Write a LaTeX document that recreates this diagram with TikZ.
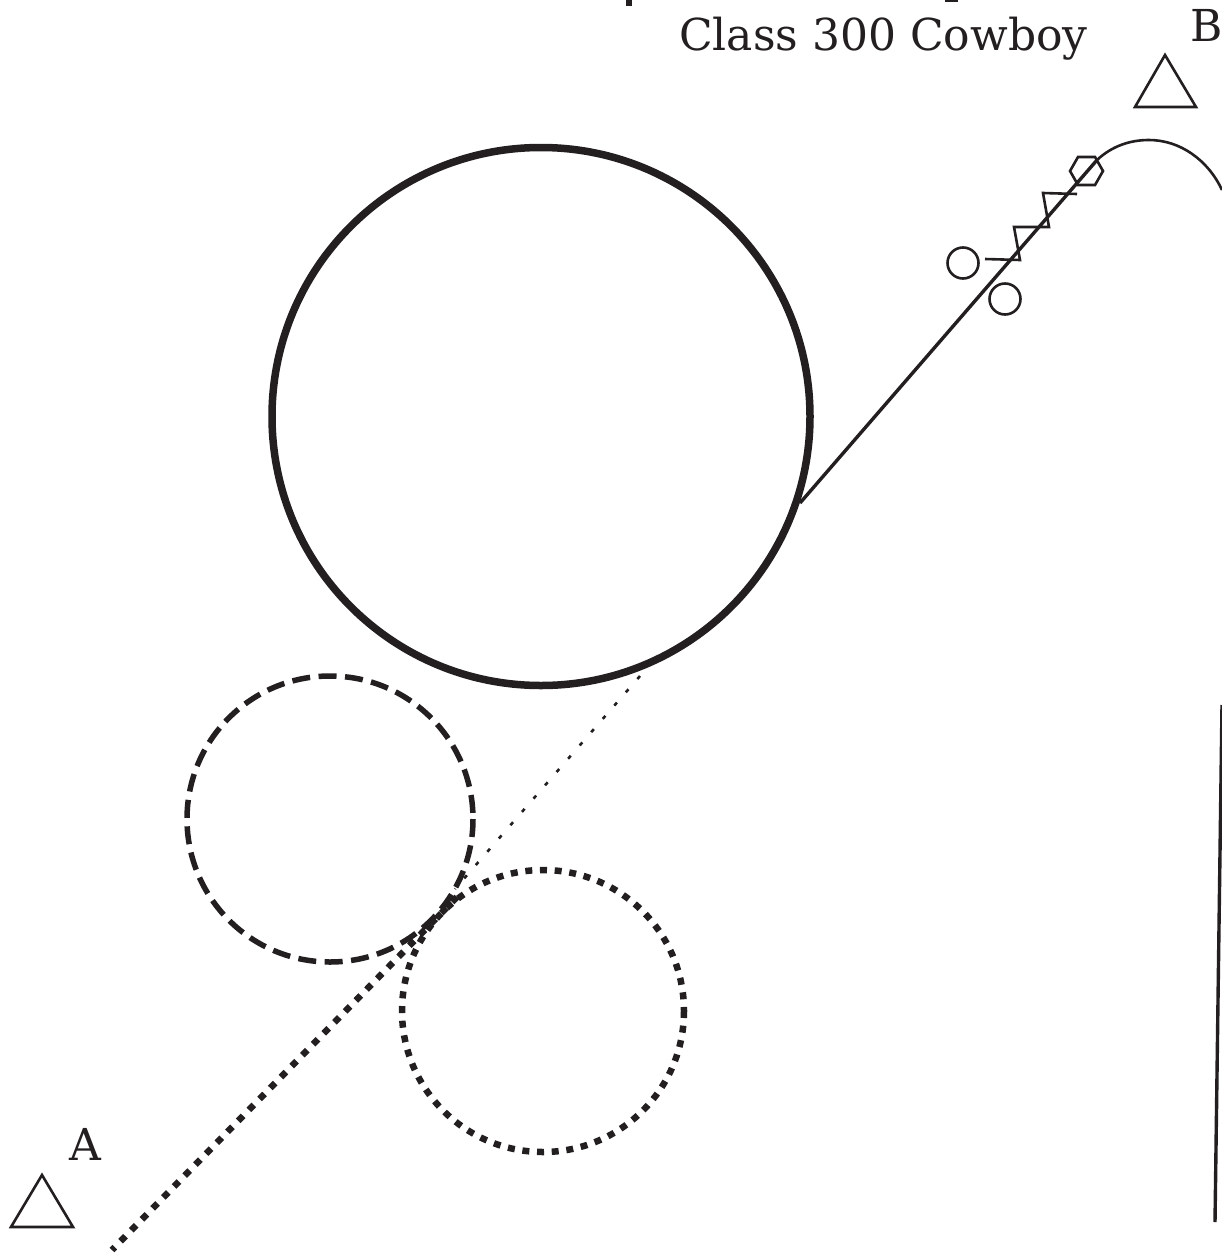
\documentclass[tikz,border=0pt]{standalone}
\usepackage{fontspec}
\setmainfont{DejaVu Serif}
\definecolor{ink}{HTML}{231F20}
\tikzset{
  base/.style={draw=ink,line cap=butt,line join=miter},
  thinshape/.style={base,line width=2.6pt},
  bigring/.style={base,line width=7.5pt},
  dashring/.style={base,line width=5.5pt,dash pattern=on 18pt off 8.5pt},
  dotring/.style={base,line width=6.5pt,dash pattern=on 7pt off 7.7pt},
  solidline/.style={base,line width=3.4pt},
  fineline/.style={base,line width=2.6pt,dash pattern=on 4pt off 13.6pt},
  dotline/.style={base,line width=6.5pt,dash pattern=on 7pt off 8.3pt},
  label/.style={inner sep=0pt,text=ink,font=\fontsize{44}{44}\selectfont}
}
\begin{document}
\begin{tikzpicture}[x=1pt,y=-1pt]
\useasboundingbox (0,0) rectangle (1222,1256);
\clip (0,0) rectangle (1222,1256);
% rings
\draw[bigring] (541,416.5) circle[radius=269];
\draw[dashring] (330,819) circle[radius=143];
\draw[dotring] (543,1011) circle[radius=141];
% lines
\coordinate (ringtouch) at (800,503);
\coordinate (lineend) at (1097,160);
\draw[solidline] (ringtouch) -- (lineend);
\draw[thinshape] (lineend) .. controls (1112,146) and (1130,140) .. (1149,140) .. controls (1180,140) and (1208,160) .. (1222,190);
\coordinate (fineA) at (640,676);
\coordinate (fineB) at (455,889);
\draw[fineline] (fineA) -- (fineB);
\coordinate (dotA) at (457,897);
\coordinate (dotB) at (112,1250);
\draw[dotline] (dotA) -- (dotB);
\coordinate (railA) at (1222,705);
\coordinate (railB) at (1215,1222);
\draw[base,line width=3.4pt] (railA) -- (railB);
% triangles
\draw[thinshape] (42,1175) -- (73,1227) -- (11,1227) -- cycle;
\draw[thinshape] (1165,55) -- (1196,107) -- (1135,107) -- cycle;
% small circles
\draw[thinshape] (963,263) circle[radius=15.5];
\draw[thinshape] (1005,299) circle[radius=15.5];
% zigzag
\draw[thinshape] (985,259) -- (1020,260) -- (1014,227) -- (1049,227) -- (1043,193) -- (1077,194);
% hexagon
\draw[thinshape] (1070,171) -- (1078,157) -- (1095,157) -- (1103,171) -- (1095,185) -- (1078,185) -- cycle;
% text
\node[label,anchor=base west] (title) at (679,50) {Class 300 Cowboy};
\node[label,anchor=base west] (labB) at (1190,41) {B};
\node[label,anchor=base] (labA) at (85,1160) {A};
% cropped descenders of the line above
\fill[ink] (626,0) rectangle (632,6);
\fill[ink] (945,0) rectangle (958,1.5);
\end{tikzpicture}
\end{document}
